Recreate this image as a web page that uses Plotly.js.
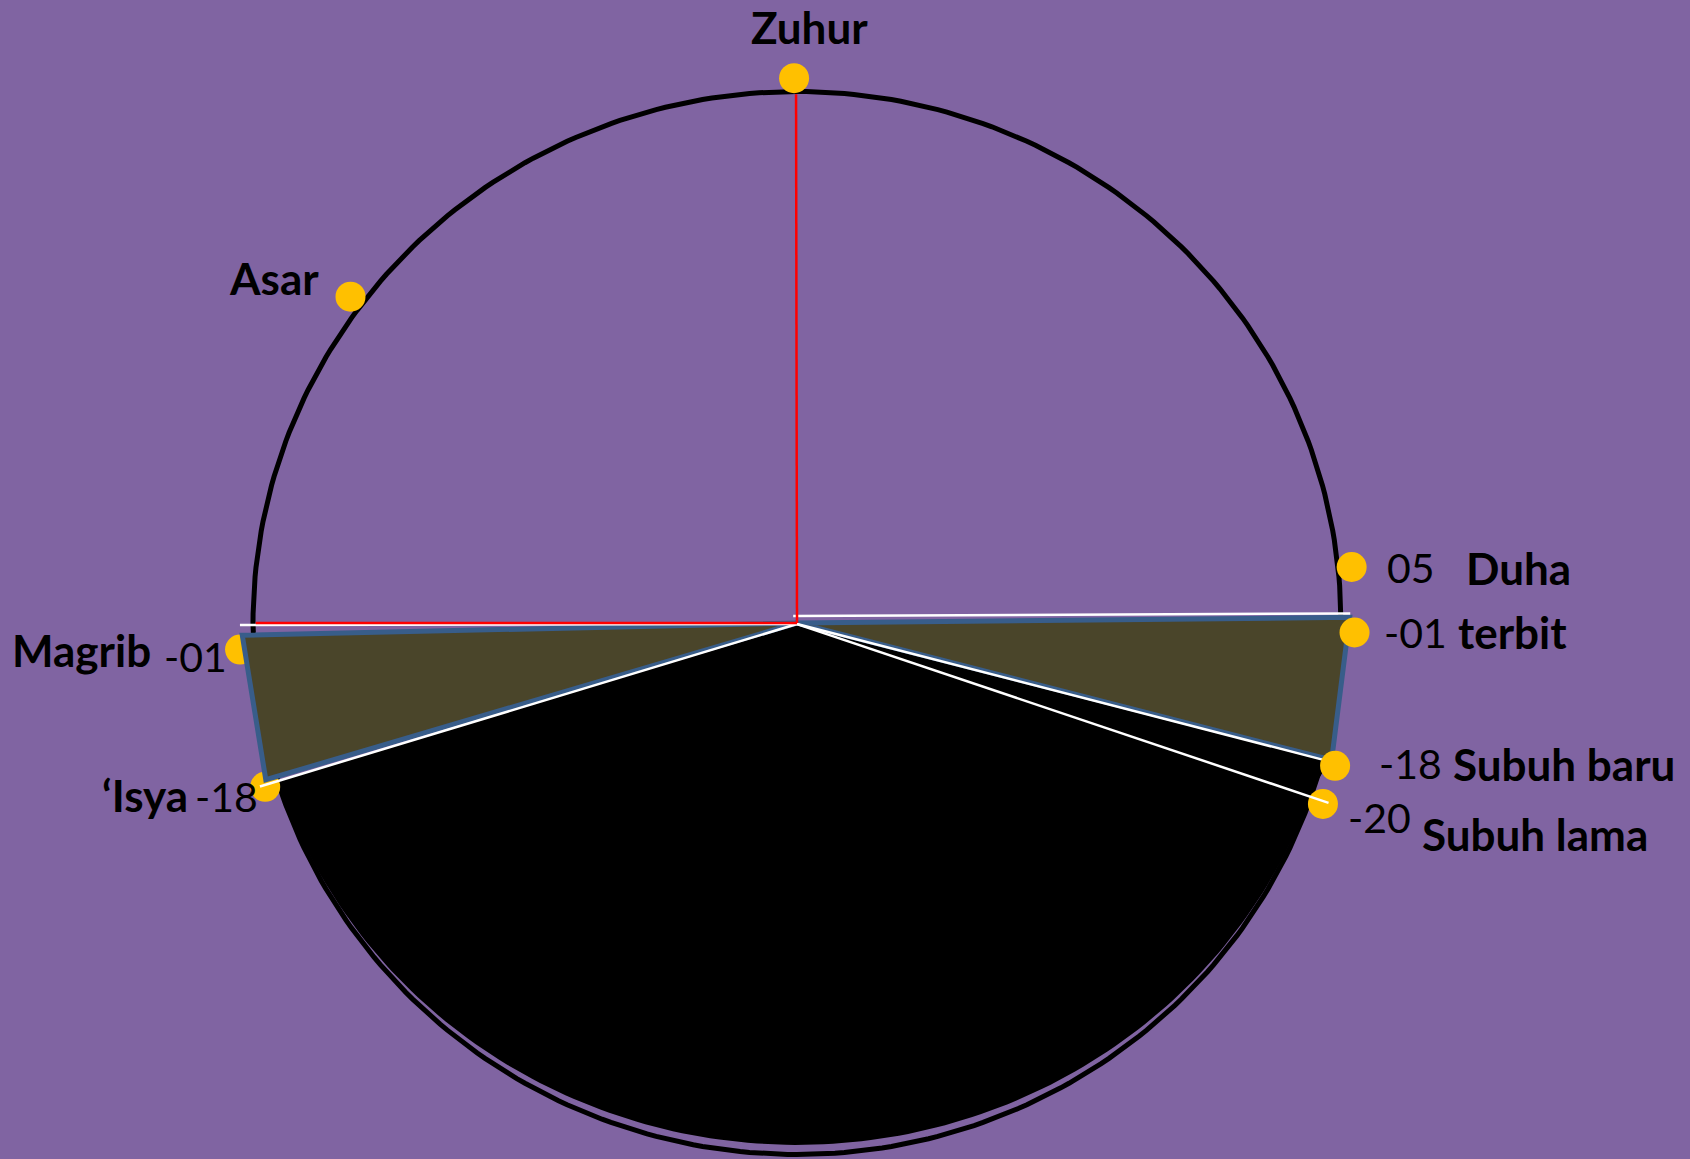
<!DOCTYPE html>
<html>
<head>
<meta charset="utf-8">
<script src="https://cdn.plot.ly/plotly-3.0.1.min.js"></script>
<style>
  html, body { margin: 0; padding: 0; background: #8064A2; }
  #chart { width: 1690px; height: 1159px; }
</style>
</head>
<body>
<div id="chart"></div>
<script>
// ---- data ----
// prayer times, their sun altitude label and their angle on the dial (degrees, 0 = east horizon, 90 = zenith)
const prayers     = ['Zuhur', 'Asar', 'Duha', 'terbit', 'Subuh baru', 'Subuh lama', '\u2018Isya', 'Magrib'];
const altitudes   = ['', '', '05', '-01', '-18', '-20', '-18', '-01'];
const dialAngles  = [90.3, 143.2, 5.9, -1.0, -15.2, -19.4, 197.5, 182.8];

// twilight wedges (start angle, end angle) and the night sector
const eveningTwilight = [181.3, 196.8];   // Magrib -> 'Isya
const morningTwilight = [0.6, -14.7];     // terbit -> Subuh baru
const nightSector     = [197.3, 345.3];   // 'Isya -> Subuh baru

// white rays (horizon and twilight boundaries) and red rays (zenith, west horizon)
const whiteRayAngles  = [180.2, 197.3, -14.9, -19.1];
const redRayAngles    = [90.1, 180.0];

// ---- helpers ----
const rad = d => d * Math.PI / 180;
const pt = (a, r) => [r * Math.cos(rad(a)), r * Math.sin(rad(a))];

const DOT_R = 1.025;
const traces = [];

// night sector (black)
(function () {
  const xs = [0], ys = [0];
  const s = pt(nightSector[0], 1.03); xs.push(s[0]); ys.push(s[1]);
  for (let t = nightSector[0] + 0.5; t <= nightSector[1] - 3; t += 1) {
    xs.push(Math.cos(rad(t)) * 1.0);
    ys.push(Math.sin(rad(t)) * 0.982);
  }
  const e = pt(nightSector[1], 1.015); xs.push(e[0]); ys.push(e[1]);
  xs.push(0); ys.push(0);
  traces.push({ type: 'scatter', mode: 'lines', x: xs, y: ys, fill: 'toself',
    fillcolor: '#000000', line: { width: 0, color: '#000000' }, hoverinfo: 'skip' });
})();

// dial circle
(function () {
  const xs = [], ys = [];
  for (let t = 0; t <= 360; t += 1) { xs.push(Math.cos(rad(t))); ys.push(Math.sin(rad(t))); }
  traces.push({ type: 'scatter', mode: 'lines', x: xs, y: ys,
    line: { width: 5, color: '#000000' }, hoverinfo: 'skip' });
})();

// dots under the wedges
function dotTrace(names) {
  const xs = [], ys = [];
  prayers.forEach((p, i) => {
    if (names.includes(p)) { const q = pt(dialAngles[i], DOT_R); xs.push(q[0]); ys.push(q[1]); }
  });
  return { type: 'scatter', mode: 'markers', x: xs, y: ys,
    marker: { size: 30, color: '#FFC000', line: { width: 0 } }, hoverinfo: 'skip' };
}
traces.push(dotTrace(['Magrib', '\u2018Isya', 'Subuh lama']));

// twilight wedges
[[eveningTwilight, 1.02], [morningTwilight, 1.016]].forEach(([w, r]) => {
  const a = pt(w[0], r), b = pt(w[1], r);
  traces.push({ type: 'scatter', mode: 'lines', x: [0, a[0], b[0], 0], y: [0, a[1], b[1], 0],
    fill: 'toself', fillcolor: '#4A452A', line: { width: 5, color: '#385D8A' }, hoverinfo: 'skip' });
});

// white rays
const whiteLen = [1.024, 1.034, 1.005, 1.034];
whiteRayAngles.forEach((a, i) => {
  const e = pt(a, whiteLen[i]);
  traces.push({ type: 'scatter', mode: 'lines', x: [0, e[0]], y: [-0.002, e[1]],
    line: { width: 2.5, color: '#FFFFFF' }, hoverinfo: 'skip' });
});
// east horizon (white, slightly above centre)
traces.push({ type: 'scatter', mode: 'lines', x: [-0.007, 1.017], y: [0.013, 0.018],
  line: { width: 2.5, color: '#FFFFFF' }, hoverinfo: 'skip' });

// red rays
redRayAngles.forEach(a => {
  const e = pt(a, 0.995);
  traces.push({ type: 'scatter', mode: 'lines', x: [0, e[0]], y: [0, e[1]],
    line: { width: 2.5, color: '#FF0000' }, hoverinfo: 'skip' });
});

// dots over the wedges
traces.push(dotTrace(['Zuhur', 'Asar', 'Duha', 'terbit', 'Subuh baru']));

// ---- labels (pixel placements) ----
const W = 1690, H = 1159;
const bold = { family: 'Lato, "Open Sans", sans-serif', size: 44, color: '#000000', weight: 700 };
const reg  = { family: 'Lato, "Open Sans", sans-serif', size: 41, color: '#000000', weight: 400 };
function lab(text, px, py, anchor, font) {
  return { text: text, xref: 'paper', yref: 'paper', x: px / W, y: 1 - py / H,
    xanchor: anchor, yanchor: 'middle', showarrow: false, font: font };
}
const labelName = i => prayers[i];
const annotations = [
  lab(labelName(0), 809, 27, 'center', bold),
  lab(labelName(1), 321, 278, 'right', bold),
  lab(altitudes[2], 1385, 568, 'left', reg),
  lab(labelName(2), 1464, 568, 'left', bold),
  lab(altitudes[3], 1382, 632, 'left', reg),
  lab(labelName(3), 1456, 632, 'left', bold),
  lab(altitudes[4], 1377, 764, 'left', reg),
  lab(labelName(4), 1451, 764, 'left', bold),
  lab(altitudes[5], 1346, 817, 'left', reg),
  lab(labelName(5), 1420, 834, 'left', bold),
  lab(altitudes[6], 260, 796, 'right', reg),
  lab(labelName(6), 190, 795, 'right', bold),
  lab(altitudes[7], 229, 656, 'right', reg),
  lab(labelName(7), 153, 650, 'right', bold)
];

const layout = {
  width: W, height: H,
  margin: { l: 0, r: 0, t: 0, b: 0, pad: 0 },
  paper_bgcolor: '#8064A2', plot_bgcolor: '#8064A2',
  showlegend: false,
  xaxis: { range: [-797 / 544, 893 / 544], visible: false, fixedrange: true },
  yaxis: { range: [-536 / 531.5, 623 / 531.5], visible: false, fixedrange: true },
  annotations: annotations
};

Plotly.newPlot('chart', traces, layout, { displayModeBar: false, staticPlot: true });
</script>
</body>
</html>
